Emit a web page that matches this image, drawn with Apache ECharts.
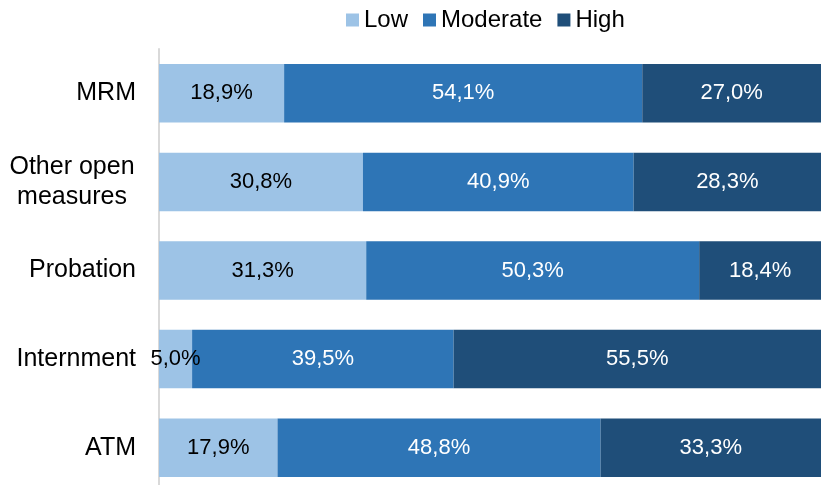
<!DOCTYPE html>
<html>
<head>
<meta charset="utf-8">
<script src="https://cdn.jsdelivr.net/npm/echarts@6/dist/echarts.min.js"></script>
<style>
  html, body { margin: 0; padding: 0; background: #fff; overflow: hidden; }
  /* the category bands run a few px past the bottom edge, so the chart is taller than the frame */
  #frame { width: 821px; height: 485px; overflow: hidden; }
  #chart { width: 821px; height: 492px; }
</style>
</head>
<body>
<div id="frame"><div id="chart"></div></div>
<script>
const categories = ['MRM', 'Other open\nmeasures', 'Probation', 'Internment', 'ATM']
const seriesNames = ['Low', 'Moderate', 'High']
const lowValues = [18.9, 30.8, 31.3, 5.0, 17.9]
const moderateValues = [54.1, 40.9, 50.3, 39.5, 48.8]
const highValues = [27.0, 28.3, 18.4, 55.5, 33.3]

const colors = ['#9DC3E6', '#2E75B6', '#1F4E79']
const labelColors = ['#000', '#fff', '#fff']
const font = "'Liberation Sans', Arial, sans-serif"

const chart = echarts.init(document.getElementById('chart'))

const fmt = p => p.value.toFixed(1).replace('.', ',') + '%'

const series = [lowValues, moderateValues, highValues].map((data, i) => ({
  name: seriesNames[i],
  type: 'bar',
  stack: 'total',
  data: data,
  barCategoryGap: '34%',
  itemStyle: { color: colors[i] },
  label: {
    show: true,
    position: 'inside',
    formatter: fmt,
    color: labelColors[i],
    fontFamily: font,
    fontSize: 22
  },
  emphasis: { disabled: true }
}))

chart.setOption({
  animation: false,
  legend: {
    data: seriesNames,
    top: 8,
    left: 346,
    padding: 0,
    itemWidth: 13,
    itemHeight: 13,
    itemGap: 15,
    icon: 'rect',
    textStyle: { fontFamily: font, fontSize: 24, color: '#000' }
  },
  grid: { left: 159, right: 0, top: 49, bottom: 0 },
  xAxis: {
    type: 'value',
    min: 0,
    max: 100,
    show: false
  },
  yAxis: {
    type: 'category',
    inverse: true,
    data: categories,
    axisLine: { show: true, lineStyle: { color: '#d9d9d9', width: 2 } },
    axisTick: { show: false },
    axisLabel: {
      margin: 23,
      fontFamily: font,
      fontSize: 25,
      color: '#000',
      lineHeight: 30,
      formatter: v => v.indexOf('\n') >= 0 ? '{c|' + v.replace('\n', '}\n{c|') + '}' : v,
      rich: {
        c: { width: 128, align: 'center', fontFamily: font, fontSize: 25, color: '#000', lineHeight: 30 }
      }
    }
  },
  series: series
})
</script>
</body>
</html>
